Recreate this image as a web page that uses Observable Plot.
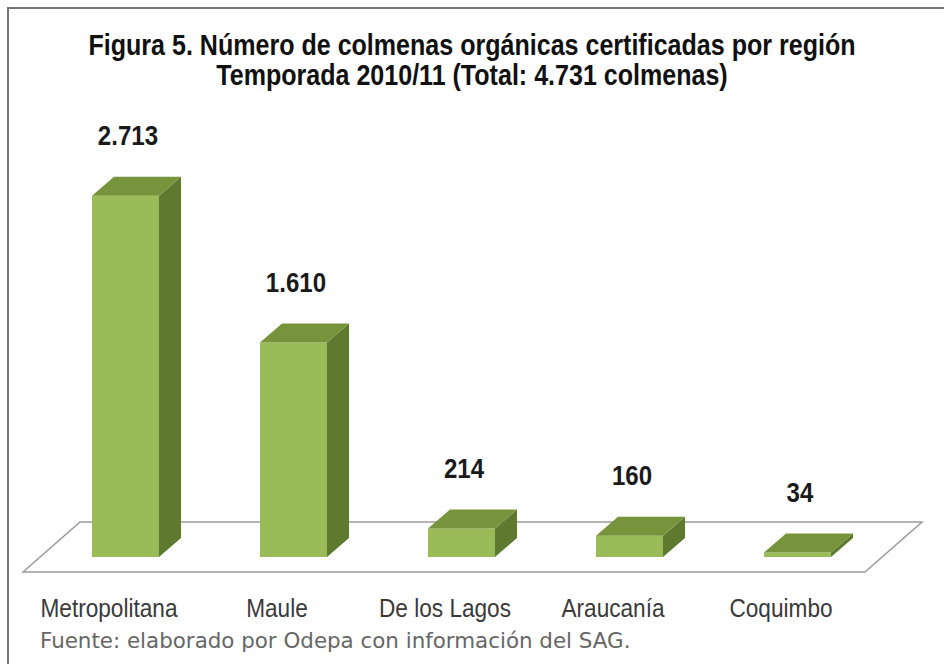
<!DOCTYPE html>
<html>
<head>
<meta charset="utf-8">
<script src="https://cdn.jsdelivr.net/npm/d3@7"></script>
<script src="https://cdn.jsdelivr.net/npm/@observablehq/plot@0.6"></script>
<style>
  html, body { margin: 0; padding: 0; background: #ffffff; width: 944px; height: 664px; overflow: hidden; }
  #frame { position: absolute; left: 7px; top: 7px; width: 1000px; height: 1000px; border: 2px solid #767676; box-sizing: border-box; }
  #title { position: absolute; left: 0; top: 30px; width: 944px; text-align: center; font-family: "Liberation Sans Narrow", "Liberation Sans", Arial, sans-serif; font-weight: bold; font-size: 30px; line-height: 30px; color: #111; transform: scaleX(0.835); transform-origin: 472px 0; }
  #chart { position: absolute; left: 0; top: 100px; }
  #caption { position: absolute; left: 40px; top: 628px; font-family: "DejaVu Sans", Verdana, sans-serif; font-size: 21.4px; color: #666; white-space: nowrap; }
</style>
</head>
<body>
<div id="frame"></div>
<div id="title">Figura 5. Número de colmenas orgánicas certificadas por región<br>Temporada 2010/11 (Total: 4.731 colmenas)</div>
<div id="chart"></div>
<div id="caption">Fuente: elaborado por Odepa con información del SAG.</div>
<script>
const categories = ["Metropolitana", "Maule", "De los Lagos", "Araucanía", "Coquimbo"];
const values = [2713, 1610, 214, 160, 34];
const valueLabels = ["2.713", "1.610", "214", "160", "34"];

const data = categories.map((c, i) => ({region: c, value: values[i], label: valueLabels[i]}));

const DX = 22, DY = 19;
const cFront = "#9bbb59", cTop = "#77933c", cSide = "#5f7a2e";

function floorMark(index, scales) {
  const x = scales.x, y = scales.y;
  const bw = x.bandwidth ? x.bandwidth() : 67;
  const xl = x(categories[0]) - 69;
  const xr = x(categories[categories.length - 1]) + bw + 34;
  const yb = y(0) + 15, yt = y(0) - 35;
  const shift = 57;
  const g = d3.create("svg:g");
  g.append("path")
    .attr("d", `M${xl},${yb}L${xl + shift},${yt}L${xr + shift},${yt}L${xr},${yb}Z`)
    .attr("fill", "#ffffff")
    .attr("stroke", "#9a9a9a")
    .attr("stroke-width", 1.5);
  return g.node();
}

function barsMark(index, scales) {
  const x = scales.x, y = scales.y;
  const bw = x.bandwidth ? x.bandwidth() : 67;
  const g = d3.create("svg:g");
  for (const d of data) {
    const x0 = x(d.region), x1 = x0 + bw;
    const yv = y(d.value), y0 = y(0);
    g.append("path")
      .attr("d", `M${x1},${yv}L${x1 + DX},${yv - DY}L${x1 + DX},${y0 - DY}L${x1},${y0}Z`)
      .attr("fill", cSide);
    g.append("rect")
      .attr("x", x0).attr("y", yv).attr("width", bw).attr("height", y0 - yv)
      .attr("fill", cFront);
    g.append("path")
      .attr("d", `M${x0},${yv}L${x0 + DX},${yv - DY}L${x1 + DX},${yv - DY}L${x1},${yv}Z`)
      .attr("fill", cTop);
  }
  return g.node();
}

const chart = Plot.plot({
  width: 944,
  height: 530,
  marginTop: 0, marginRight: 0, marginBottom: 0, marginLeft: 0,
  style: {background: "transparent", overflow: "visible"},
  x: {type: "band", domain: categories, range: [41, 883], paddingInner: 0.6, paddingOuter: 0.3, axis: null},
  y: {type: "linear", domain: [0, 3000], range: [457, 57.4], axis: null},
  marks: [
    floorMark,
    barsMark,
    Plot.text(data, {
      x: "region", y: "value", text: "label", dy: -60, dx: 2,
      fontFamily: "Liberation Sans Narrow, Liberation Sans, Arial, sans-serif",
      fontWeight: "bold", fontSize: 28, fill: "#1a1a1a",
      className: "vlabel"
    }),
    Plot.text(data, {
      x: "region", y: () => 0, text: "region", dy: 51, dx: -17,
      fontFamily: "Liberation Sans Narrow, Liberation Sans, Arial, sans-serif",
      fontSize: 26, fill: "#3a3a3a",
      className: "clabel"
    })
  ]
});

// condense the SVG text horizontally around each anchor (narrow-font look)
function condense(sel, s) {
  d3.select(chart).selectAll(sel).each(function() {
    const t = d3.select(this);
    const tr = t.attr("transform");
    if (tr) {
      t.attr("transform", tr + ` scale(${s},1)`);
    } else {
      const x = +t.attr("x") || 0, y = +t.attr("y") || 0;
      t.attr("transform", `translate(${x},${y}) scale(${s},1) translate(${-x},${-y})`);
    }
  });
}
condense(".vlabel text", 0.86);
condense(".clabel text", 0.87);

document.getElementById("chart").appendChild(chart);
</script>
</body>
</html>
